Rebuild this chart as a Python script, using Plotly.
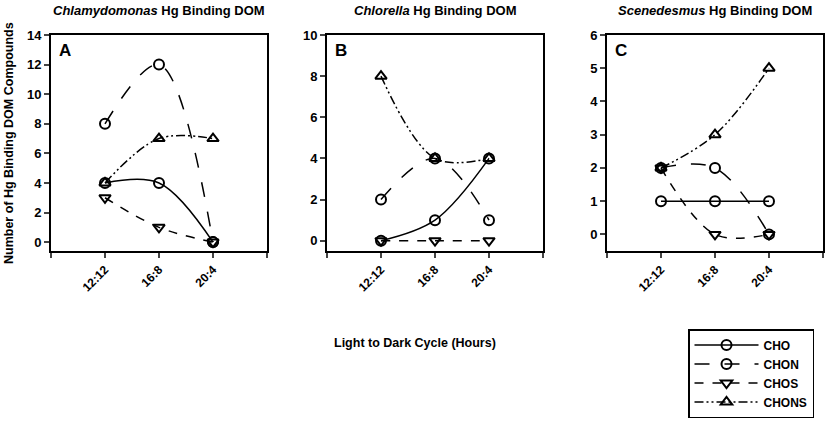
import plotly.graph_objects as go

# light:dark cycles on the x axis
cycles = ["12:12", "16:8", "20:4"]
series = ["CHO", "CHON", "CHOS", "CHONS"]

# number of Hg binding DOM compounds per panel
chlamy_cho = [4, 4, 0]
chlamy_chon = [8, 12, 0]
chlamy_chos = [3, 1, 0]
chlamy_chons = [4, 7, 7]

chlor_cho = [0, 1, 4]
chlor_chon = [2, 4, 1]
chlor_chos = [0, 0, 0]
chlor_chons = [8, 4, 4]

scene_cho = [1, 1, 1]
scene_chon = [2, 2, 0]
scene_chos = [2, 0, 0]
scene_chons = [2, 3, 5]

panels = [
    ("Chlamydomonas", "A", [chlamy_cho, chlamy_chon, chlamy_chos, chlamy_chons], -0.6, 14, 2),
    ("Chlorella", "B", [chlor_cho, chlor_chon, chlor_chos, chlor_chons], -0.5, 10, 2),
    ("Scenedesmus", "C", [scene_cho, scene_chon, scene_chos, scene_chons], -0.5, 6, 1),
]

styles = {
    "CHO": dict(dash="solid", symbol="circle-open"),
    "CHON": dict(dash="longdash", symbol="circle-open"),
    "CHOS": dict(dash="dash", symbol="triangle-down-open"),
    "CHONS": dict(dash="9px,3px,2px,3px,2px,3px", symbol="triangle-up-open"),
}

W, H = 836, 422
x_pos = list(range(1, len(cycles) + 1))
px_left = [51, 327, 607]
panel_w = 216
top_px, bot_px = 35, 251

FONT = "Liberation Sans, Arial, sans-serif"

fig = go.Figure()
layout_axes = {}
annotations = []

for i, (name, letter, data, ymin, ymax, dtick) in enumerate(panels):
    n = "" if i == 0 else str(i + 1)
    for s, vals in zip(series, data):
        st = styles[s]
        fig.add_trace(go.Scatter(
            x=x_pos, y=vals, name=s, mode="lines+markers",
            xaxis="x" + n, yaxis="y" + n,
            line=dict(color="black", width=1.5, dash=st["dash"], shape="spline"),
            marker=dict(symbol=st["symbol"], size=10, color="black",
                        line=dict(color="black", width=2)),
            showlegend=(i == 0),
        ))
    layout_axes["xaxis" + n] = dict(
        domain=[px_left[i] / W, (px_left[i] + panel_w) / W],
        anchor="y" + n, range=[0, len(cycles) + 1],
        tickvals=[0] + x_pos + [len(cycles) + 1],
        ticktext=[""] + cycles + [""],
        tickangle=-45, ticks="outside", ticklen=5, tickwidth=1.5,
        showline=True, linecolor="black", linewidth=2, mirror=True,
        showgrid=False, zeroline=False,
        tickfont=dict(family=FONT, size=12, color="black", weight="bold"),
    )
    layout_axes["yaxis" + n] = dict(
        domain=[(H - bot_px) / H, (H - top_px) / H],
        anchor="x" + n, range=[ymin, ymax], dtick=dtick, tick0=0,
        ticks="outside", ticklen=5, tickwidth=1.5,
        showline=True, linecolor="black", linewidth=2, mirror=True,
        showgrid=False, zeroline=False,
        tickfont=dict(family=FONT, size=13, color="black", weight="bold"),
    )
    annotations.append(dict(
        text=f"<i>{name}</i> Hg Binding DOM",
        x=(px_left[i] + panel_w / 2) / W, y=1 - 10 / H,
        xref="paper", yref="paper", xanchor="center", yanchor="middle",
        showarrow=False,
        font=dict(family=FONT, size=13, color="black", weight="bold"),
    ))
    annotations.append(dict(
        text=letter, x=0.03, y=0.98,
        xref=f"x{n} domain", yref=f"y{n} domain",
        xanchor="left", yanchor="top", showarrow=False,
        font=dict(family=FONT, size=17, color="black", weight="bold"),
    ))

annotations.append(dict(
    text="Number of Hg Binding DOM Compounds", textangle=-90,
    x=9 / W, y=1 - 143 / H, xref="paper", yref="paper",
    xanchor="center", yanchor="middle", showarrow=False,
    font=dict(family=FONT, size=12.5, color="black", weight="bold"),
))
annotations.append(dict(
    text="Light to Dark Cycle (Hours)",
    x=415 / W, y=1 - 343 / H, xref="paper", yref="paper",
    xanchor="center", yanchor="middle", showarrow=False,
    font=dict(family=FONT, size=12.5, color="black", weight="bold"),
))

fig.update_layout(
    width=W, height=H,
    margin=dict(l=0, r=0, t=0, b=0, autoexpand=False),
    paper_bgcolor="white", plot_bgcolor="white",
    annotations=annotations,
    legend=dict(
        x=688 / W, y=1 - 418 / H, xanchor="left", yanchor="bottom",
        bordercolor="black", borderwidth=1.5, itemwidth=64,
        tracegroupgap=0,
        font=dict(family=FONT, size=12, color="black", weight="bold"),
    ),
    **layout_axes,
)

# the page has a default 8px body margin; drop it so the figure fills the window
fig.write_html("out.html", config={"displayModeBar": False},
               post_script="document.body.style.margin='0';")
